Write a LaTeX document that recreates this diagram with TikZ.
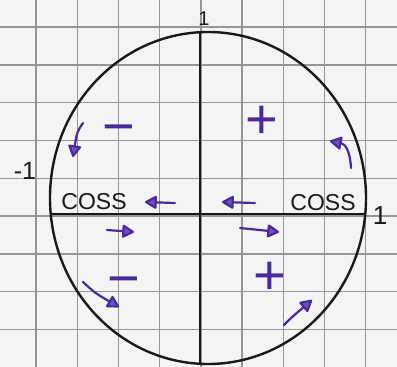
\documentclass[tikz,border=0pt]{standalone}
\usepackage{fontspec}
\setmainfont{Liberation Sans}
\usetikzlibrary{arrows.meta,shapes.geometric}
\definecolor{paper}{RGB}{244,244,242}
\definecolor{gridc}{RGB}{150,150,150}
\definecolor{ink}{RGB}{25,25,25}
\definecolor{pink}{RGB}{72,42,155}
\definecolor{phead}{RGB}{112,82,185}
\tikzset{
  gridline/.style={gridc, line width=1.4pt},
  inkline/.style={ink, line width=2.4pt},
  parrow/.style={pink, line width=2.2pt, line cap=round,
    -{Triangle[length=13pt,width=14pt,round,fill=phead]}},
  sign/.style={pink, inner sep=0pt, font=\fontsize{56}{56}\selectfont},
  cosstext/.style={ink, inner sep=0pt, font=\fontsize{23}{23}\selectfont},
  numlabel/.style={ink, inner sep=0pt},
}
\begin{document}
\begin{tikzpicture}[x=1pt,y=-1pt]
\useasboundingbox (0,0) rectangle (397,367);
\fill[paper] (0,0) rectangle (397,367);
% grid paper
\foreach \k in {0,...,8} {
  \draw[gridline] ({36+41.2*\k},0) -- ({36+41.2*\k},367);
}
\foreach \k in {-1,...,9} {
  \draw[gridline] (0,{27+37.8*\k}) -- (397,{27+37.8*\k});
}
% unit circle and axes
\node[draw=ink, line width=2.4pt, ellipse, minimum width=316pt, minimum height=332pt, inner sep=0pt] (circ) at (208,198) {};
\coordinate (axL) at (51,214);
\coordinate (axR) at (365,214);
\coordinate (axT) at (200,32);
\coordinate (axB) at (200,364);
\draw[inkline] (axL) -- (axR);
\draw[inkline] (axT) -- (axB);
% axis labels
\node[numlabel, font=\fontsize{20}{20}\selectfont] (ltop) at (204,19) {1};
\node[numlabel, font=\fontsize{25}{25}\selectfont] (lleft) at (25,171) {-1};
\node[numlabel, font=\fontsize{26}{26}\selectfont] (lright) at (380,216) {1};
% cos labels
\node[cosstext] (cosL) at (94,202) {COSS};
\node[cosstext] (cosR) at (323,203) {COSS};
% signs
\node[sign] (s1) at (119,135) {−};
\node[sign] (s2) at (262,122) {+};
\node[sign] (s3) at (124,287) {−};
\node[sign] (s4) at (270,278) {+};
% arrows
\coordinate (a1s) at (83,123); \coordinate (a1e) at (73,157);
\draw[parrow] (a1s) .. controls (77,132) .. (a1e);
\coordinate (a2s) at (351,168); \coordinate (a2e) at (330,141);
\draw[parrow] (a2s) .. controls (350,150) and (345,144) .. (a2e);
\coordinate (a3s) at (175,203); \coordinate (a3e) at (145,202);
\draw[parrow] (a3s) -- (a3e);
\coordinate (a4s) at (107,230); \coordinate (a4e) at (134,232);
\draw[parrow] (a4s) -- (a4e);
\coordinate (a5s) at (255,203); \coordinate (a5e) at (222,202);
\draw[parrow] (a5s) -- (a5e);
\coordinate (a6s) at (240,228); \coordinate (a6e) at (279,232);
\draw[parrow] (a6s) -- (a6e);
\coordinate (a7s) at (83,282); \coordinate (a7e) at (119,307);
\draw[parrow] (a7s) .. controls (95,293) .. (a7e);
\coordinate (a8s) at (284,325); \coordinate (a8e) at (312,300);
\draw[parrow] (a8s) .. controls (292,317) .. (a8e);
\end{tikzpicture}
\end{document}
